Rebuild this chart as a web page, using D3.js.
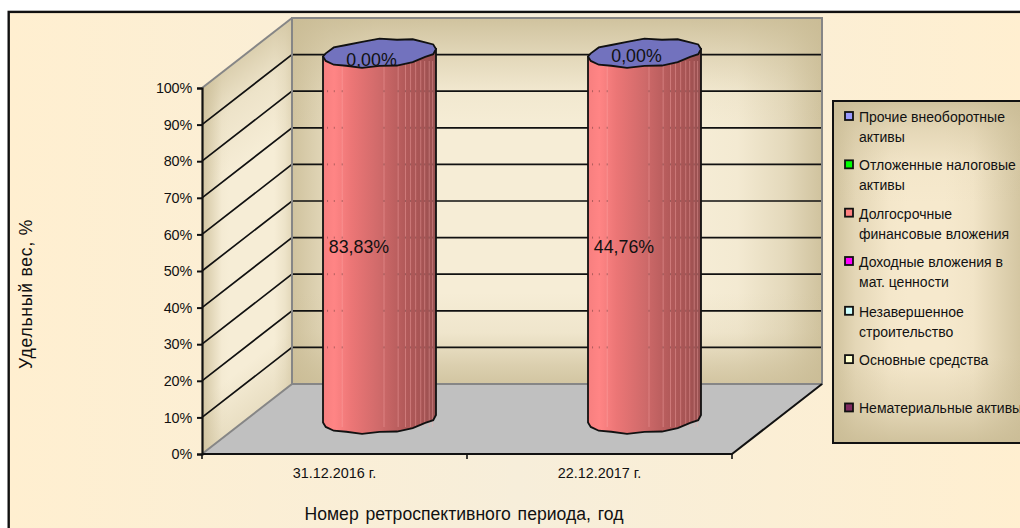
<!DOCTYPE html>
<html><head><meta charset="utf-8">
<script src="https://cdn.jsdelivr.net/npm/d3@7"></script>
<style>html,body{margin:0;padding:0;background:#fff}svg{display:block}text{font-family:"Liberation Sans",Arial,sans-serif;fill:#111}</style>
</head><body><svg id="c" width="1020" height="528"></svg>
<script>
const categories = ["31.12.2016 г.", "22.12.2017 г."];
const seriesNames = ["Прочие внеоборотные|активы","Отложенные налоговые|активы","Долгосрочные|финансовые вложения","Доходные вложения в|мат. ценности","Незавершенное|строительство","Основные средства","Нематериальные активы"];
const seriesColors = ["#9999ff","#00ff00","#ff8080","#ff00ff","#ccffff","#ffffcc","#802a60"];
const longTermShare = [83.83, 44.76];
const otherShare = [0, 0];
const stackedTotal = [100, 100];
const yTicks = [0,10,20,30,40,50,60,70,80,90,100];
const legendSlots = [0,1,2,3,4.03,5.03,6.03];

const svg = d3.select("#c");
const defs = svg.append("defs");
const W=1020,H=528;
const depth={x:90,y:-70};
const y=d3.scaleLinear().domain([0,100]).range([454,88]);
const x=d3.scaleBand().domain(categories).range([202,732]);
const pct=d=>d+"%";
const comma=d=>d.toFixed(2).replace(".",",")+"%";

function lin(id,dir,stops){
  const g=defs.append("linearGradient").attr("id",id);
  if(dir==="h") g.attr("x1",0).attr("x2",1).attr("y1",0).attr("y2",0);
  else g.attr("x1",0).attr("x2",0).attr("y1",0).attr("y2",1);
  stops.forEach(s=>g.append("stop").attr("offset",s[0]).attr("stop-color",s[1]).attr("stop-opacity",s[2]));
}
const tan="#c9bb94";
lin("eh","h",[[0,tan,.85],[.07,tan,.4],[.16,tan,.06],[.25,tan,0],[.75,tan,0],[.84,tan,.06],[.93,tan,.4],[1,tan,.85]]);
lin("ev","v",[[0,tan,.85],[.1,tan,.45],[.2,tan,.1],[.3,tan,0],[.75,tan,0],[.86,tan,.15],[.95,tan,.6],[1,tan,.8]]);
lin("lh","h",[[0,tan,.85],[.12,tan,.4],[.3,tan,.05],[.4,tan,0],[.6,tan,0],[.75,tan,.1],[.9,tan,.5],[1,tan,.75]]);
lin("lv","v",[[0,tan,.85],[.08,tan,.4],[.2,tan,.05],[.3,tan,0],[.75,tan,0],[.9,tan,.4],[1,tan,.85]]);
lin("sh","h",[[0,tan,.8],[.1,tan,.45],[.22,tan,.05],[.3,tan,0],[.8,tan,0],[.92,tan,.2],[1,tan,.45]]);
lin("sv","v",[[0,tan,.6],[.12,tan,.2],[.3,tan,0],[.85,tan,0],[1,tan,.3]]);
lin("bgh","h",[[0,"#ffefd0",1],[.5,"#f7eeda",1],[1,"#ffefd0",1]]);
lin("cyl","h",[[0,"#f77f7f",1],[.1,"#ff8585",1],[.25,"#ec7676",1],[.5,"#cf6a6a",1],[.72,"#b35a5a",1],[.9,"#a45353",1],[1,"#965050",1]]);

// frame
svg.append("rect").attr("x",8.7).attr("y",11.9).attr("width",W).attr("height",H).attr("fill","url(#bgh)").attr("stroke","#111").attr("stroke-width",2.4);

const wallTop=y(100)+depth.y, wallBot=y(0)+depth.y, bx0=x.range()[0]+depth.x, bx1=x.range()[1]+depth.x, fx0=x.range()[0], fx1=x.range()[1];
const g=svg.append("g");
// back wall
g.append("rect").attr("x",bx0).attr("y",wallTop).attr("width",bx1-bx0).attr("height",wallBot-wallTop).attr("fill","#f6edd6");
g.append("rect").attr("x",bx0).attr("y",wallTop).attr("width",bx1-bx0).attr("height",wallBot-wallTop).attr("fill","url(#eh)");
g.append("rect").attr("x",bx0).attr("y",wallTop).attr("width",bx1-bx0).attr("height",wallBot-wallTop).attr("fill","url(#ev)");
// side wall (skewed)
const sk=Math.atan(depth.y/depth.x)*180/Math.PI;
const side=g.append("g").attr("transform",`translate(${fx0},${y(0)}) skewY(${sk})`);
const sh=y(0)-y(100);
side.append("rect").attr("x",0).attr("y",-sh).attr("width",depth.x).attr("height",sh).attr("fill","#f6edd6");
side.append("rect").attr("x",0).attr("y",-sh).attr("width",depth.x).attr("height",sh).attr("fill","url(#sh)");
side.append("rect").attr("x",0).attr("y",-sh).attr("width",depth.x).attr("height",sh).attr("fill","url(#sv)");
// floor
g.append("path").attr("d",d3.line()([[fx0,y(0)],[bx0,wallBot],[bx1,wallBot],[fx1,y(0)]])+"Z").attr("fill","#c0c0c0");
// gridlines
yTicks.slice(1,-1).forEach(t=>{
  g.append("path").attr("d",d3.line()([[fx0,y(t)],[bx0,y(t)+depth.y],[bx1,y(t)+depth.y]])).attr("fill","none").attr("stroke","#111").attr("stroke-width",1.7);
});
// grey wall edges
g.append("path").attr("d",d3.line()([[fx0,y(0)],[bx0,wallBot],[bx1,wallBot],[bx1,wallTop],[bx0,wallTop],[bx0,wallBot]])).attr("fill","none").attr("stroke","#868686").attr("stroke-width",2);
g.append("path").attr("d",d3.line()([[fx0,y(100)],[bx0,wallTop]])).attr("fill","none").attr("stroke","#868686").attr("stroke-width",2);
// floor front edge
g.append("path").attr("d",d3.line()([[fx0,y(0)],[fx1,y(0)],[bx1,wallBot]])).attr("fill","none").attr("stroke","#111").attr("stroke-width",2);

// y axis
const yAxis=d3.axisLeft(y).tickValues(yTicks).tickFormat(pct).tickSize(5).tickPadding(5);
const ya=svg.append("g").attr("transform",`translate(${fx0},0)`).call(yAxis);
ya.select(".domain").attr("stroke","#111").attr("stroke-width",2.2);
ya.selectAll(".tick line").attr("stroke","#111").attr("stroke-width",2);
ya.selectAll("text").style("font-size","14.4px").attr("letter-spacing","-0.2");
// x axis
const tickEdges=[...categories.map(c=>x(c)),fx1];
const xa=svg.append("g").attr("transform",`translate(0,${y(0)})`);
xa.selectAll("line").data(tickEdges).join("line").attr("x1",d=>d).attr("x2",d=>d).attr("y1",0).attr("y2",5).attr("stroke","#111").attr("stroke-width",1.6);
xa.selectAll("text").data(categories).join("text").attr("x",d=>x(d)+x.bandwidth()/2).attr("y",24).attr("text-anchor","middle").style("font-size","14.4px").text(d=>d);

// cylinders
const rx=x.bandwidth()*0.2132, ry=13.5, tilt=-0.07;
const facetAngles=d3.range(0,360,18).map(a=>a*Math.PI/180);
const jag=[0,.8,-.9,.5,.9,-.6,.8,-.5,.6,0,-.5,.8,-.8,.6,.5,-.8,.8,-.5,.6,-.6];
function pt(c,v,a,j=0){const cx=x(c)+x.bandwidth()/2+depth.x/2;const dx=rx*Math.cos(a);return [cx+dx,y(v)+depth.y/2+ry*Math.sin(a)+tilt*dx+j];}
const facetLines=[.04,.1,.17,.54,.665,.73,.775,.82,.865,.90,.94,.97];
categories.forEach((c,i)=>{
  const v=stackedTotal[i];
  const cyl=svg.append("g");
  const lower=facetAngles.filter(a=>a<=Math.PI+1e-6).map((a,k)=>pt(c,0,a,jag[k]));
  const upper=[pt(c,v,Math.PI),pt(c,v,0)];
  const clipId="topClip"+i;
  const topPts=facetAngles.map((a,k)=>pt(c,v,a,jag[k]));
  defs.append("clipPath").attr("id",clipId).append("path").attr("d",d3.line()(topPts)+"Z");
  cyl.append("path").attr("d",d3.line()([...lower,...upper])+"Z").attr("fill","url(#cyl)");
  const L=pt(c,v,Math.PI)[0],R=pt(c,v,0)[0];
  facetLines.forEach((f,k)=>{
    const fx=L+(R-L)*f;
    if(k>=2) cyl.append("line").attr("x1",fx).attr("x2",fx).attr("y1",y(v)+depth.y/2+8).attr("y2",y(0)+depth.y/2+8).attr("stroke","#ffb0b0").attr("stroke-opacity",.38).attr("stroke-width",1);
    yTicks.slice(1,-1).forEach(t=>{
      cyl.append("line").attr("x1",fx).attr("x2",fx).attr("y1",y(t)+depth.y-1).attr("y2",y(t)+depth.y+1).attr("stroke","#5a3030").attr("stroke-opacity",.45).attr("stroke-width",1);
    });
  });
  cyl.append("path").attr("d",d3.line()([...lower,...upper])+"Z").attr("fill","none").attr("stroke","#111").attr("stroke-width",1.8);
  cyl.append("path").attr("d",d3.line()(topPts)+"Z").attr("fill","#7272be").attr("stroke","#111").attr("stroke-width",1.8);
  const cx=x(c)+x.bandwidth()/2+depth.x/2;
  svg.append("g").attr("clip-path",`url(#${clipId})`).append("text").attr("x",cx-8).attr("y",y(v)+depth.y/2+(i?9:13)).attr("text-anchor","middle").style("font-size","17.8px").text(comma(otherShare[i]));
  svg.append("text").attr("x",cx-20.5).attr("y",y(50)+depth.y/2+17).attr("text-anchor","middle").style("font-size","17.8px").text(comma(longTermShare[i]));
});

// legend
const lg=svg.append("g");
const lx=833,ly=101,lw=187,lh=342;
lg.append("rect").attr("x",lx).attr("y",ly).attr("width",lw).attr("height",lh).attr("fill","#f6e9cd");
lg.append("rect").attr("x",lx).attr("y",ly).attr("width",lw).attr("height",lh).attr("fill","url(#lh)");
lg.append("rect").attr("x",lx).attr("y",ly).attr("width",lw).attr("height",lh).attr("fill","url(#lv)");
lg.append("rect").attr("x",lx).attr("y",ly).attr("width",lw+10).attr("height",lh).attr("fill","none").attr("stroke","#111").attr("stroke-width",2);
const slot=d3.scaleLinear().domain([0,6]).range([117,407]);
seriesNames.forEach((n,i)=>{
  const yy=slot(legendSlots[i]);
  lg.append("rect").attr("x",845).attr("y",yy-5).attr("width",8).attr("height",8).attr("fill",seriesColors[i]).attr("stroke","#111").attr("stroke-width",1.8);
  n.split("|").forEach((t,k)=>{
    lg.append("text").attr("x",859).attr("y",yy+5+k*20).style("font-size","14px").text(t);
  });
});
// axis titles
svg.append("text").attr("transform","translate(32,294) rotate(-90)").attr("text-anchor","middle").style("font-size","17.5px").attr("letter-spacing","0.8").text("Удельный вес, %");
svg.append("text").attr("x",464).attr("y",520).attr("text-anchor","middle").style("font-size","17.6px").attr("word-spacing","2").text("Номер ретроспективного периода, год");
</script></body></html>
